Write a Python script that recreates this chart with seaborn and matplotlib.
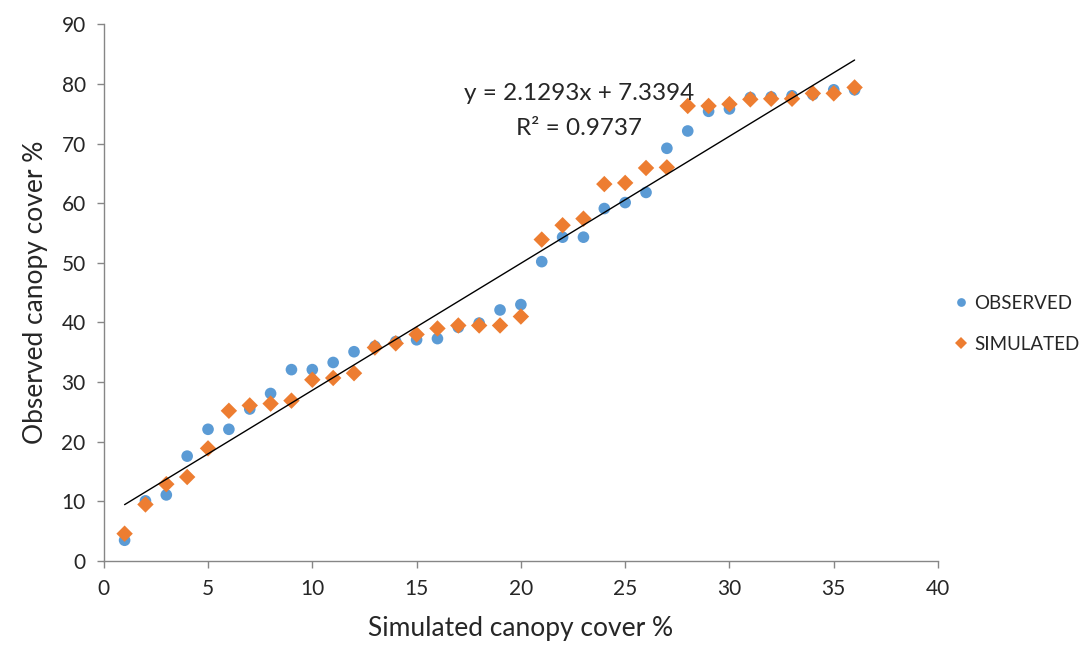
import matplotlib
matplotlib.use("Agg")
import matplotlib.pyplot as plt
import seaborn as sns
import numpy as np
import pandas as pd

# values
x_vals = list(range(1, 37))
observed = [3.5, 10.1, 11.1, 17.6, 22.1, 22.1, 25.5, 28.1, 32.1, 32.1,
            33.3, 35.1, 36.0, 36.8, 37.1, 37.3, 39.2, 39.9, 42.1, 43.0,
            50.2, 54.3, 54.3, 59.1, 60.1, 61.8, 69.2, 72.1, 75.4, 75.8,
            77.7, 77.8, 78.0, 78.2, 79.0, 79.0]
simulated = [4.6, 9.5, 12.9, 14.1, 18.9, 25.2, 26.1, 26.4, 26.9, 30.4,
             30.7, 31.5, 35.8, 36.5, 38.0, 39.0, 39.5, 39.5, 39.5, 41.0,
             53.9, 56.3, 57.4, 63.2, 63.4, 65.9, 66.0, 76.3, 76.3, 76.6,
             77.4, 77.5, 77.5, 78.4, 78.4, 79.4]
slope = 2.1293
intercept = 7.3394
r_squared = 0.9737

df = pd.DataFrame({
    'x': x_vals * 2,
    'y': observed + simulated,
    'series': ['OBSERVED'] * len(x_vals) + ['SIMULATED'] * len(x_vals),
})

sns.set_theme(style='white')
plt.rcParams['font.family'] = ['Lato', 'DejaVu Sans']

fig = plt.figure(figsize=(10.92, 6.54), dpi=100)
ax = fig.add_axes([0.095, 0.142, 0.764, 0.821])

palette = {'OBSERVED': '#5B9BD5', 'SIMULATED': '#ED7D31'}
markers = {'OBSERVED': 'o', 'SIMULATED': 'D'}
sns.scatterplot(data=df, x='x', y='y', hue='series', style='series',
                palette=palette, markers=markers, s=70, linewidth=0,
                ax=ax, zorder=3)

# linear trendline
xl = np.array([min(x_vals), max(x_vals)])
ax.plot(xl, slope * xl + intercept, color='black', linewidth=1, zorder=4)
ax.text(22.8, 78.4, f'y = {slope}x + {intercept}', ha='center', va='center', fontsize=17.5)
ax.text(22.8, 72.6, f'R² = {r_squared}', ha='center', va='center', fontsize=17.5)

ax.set_xlim(0, 40)
ax.set_ylim(0, 90)
ax.set_xticks(range(0, 41, 5))
ax.set_yticks(range(0, 91, 10))
ax.set_xlabel('Simulated canopy cover %', fontsize=19, labelpad=12)
ax.set_ylabel('Observed canopy cover %', fontsize=19, labelpad=10)
ax.tick_params(axis='both', labelsize=15, length=5, width=1, color='#868686',
               direction='out', bottom=True, left=True, pad=8)
for side in ['top', 'right']:
    ax.spines[side].set_visible(False)
for side in ['left', 'bottom']:
    ax.spines[side].set_color('#868686')
    ax.spines[side].set_linewidth(1)

handles, labels = ax.get_legend_handles_labels()
ax.legend_.remove()
fig.legend(handles, labels, loc='center left', bbox_to_anchor=(0.853, 0.505),
           frameon=False, fontsize=13.5, handletextpad=0.0, labelspacing=1.3,
           markerscale=0.75, handlelength=1.4)

fig.savefig('out.png', dpi=100)
